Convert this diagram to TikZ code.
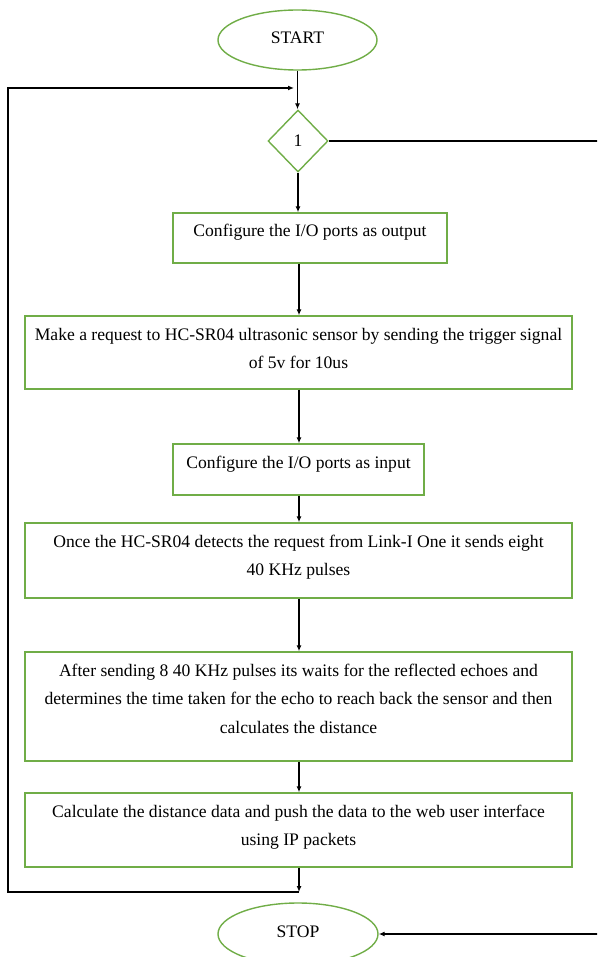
\documentclass[tikz,border=0pt]{standalone}
\usepackage{fontspec}
\setmainfont{Liberation Serif}
\usetikzlibrary{shapes.geometric,arrows.meta}
\definecolor{boxgreen}{RGB}{112,173,71}

% box contents: width, height, text (first baseline 24pt below the top edge)
\newcommand\flowtext[3]{\parbox[c][#2pt][t]{#1pt}{\centering\fontsize{17.6}{28.5}\selectfont\rule{0pt}{24pt}#3}}

\tikzset{
  flowbox/.style={draw=boxgreen, line width=1.4pt, rectangle, inner sep=0pt},
  terminal/.style={draw=boxgreen, line width=1.4pt, ellipse, inner sep=0pt,
                   font=\fontsize{17.6}{20}\selectfont},
  decision/.style={draw=boxgreen, line width=1.4pt, diamond, inner sep=0pt,
                   font=\fontsize{17.6}{20}\selectfont},
  link/.style={draw=black, line width=1.3pt},
  arr/.style={link, -{Latex[length=6pt,width=5pt]}},
}

\begin{document}
\begin{tikzpicture}[x=1pt, y=-1pt]
  \useasboundingbox (0,0) rectangle (597,957);
  \clip (0,0) rectangle (597,957);

  % terminals and decision
  \node[terminal, minimum width=159pt, minimum height=60pt] (start) at (297.5,40) {\raisebox{5pt}{START}};
  \node[decision, minimum width=60pt, minimum height=62pt] (dec) at (298,141) {1};
  \node[terminal, minimum width=160pt, minimum height=62pt] (stop) at (298,934) {\raisebox{5pt}{STOP}};

  % process steps
  \node[flowbox] (b1) at (310,238)
    {\flowtext{274}{50}{Configure the I/O ports as output}};
  \node[flowbox] (b2) at (298.5,352.5)
    {\flowtext{547}{73}{Make a request to HC-SR04 ultrasonic sensor by sending the trigger signal\\ of 5v for 10us}};
  \node[flowbox] (b3) at (298.5,469.5)
    {\flowtext{251}{51}{Configure the I/O ports as input}};
  \node[flowbox] (b4) at (298.5,560.5)
    {\flowtext{547}{75}{Once the HC-SR04 detects the request from Link-I One it sends eight\\ 40 KHz pulses}};
  \node[flowbox] (b5) at (298.5,706.5)
    {\flowtext{547}{109}{After sending 8 40 KHz pulses its waits for the reflected echoes and\\ determines the time taken for the echo to reach back the sensor and then\\ calculates the distance}};
  \node[flowbox] (b6) at (298.5,830)
    {\flowtext{547}{74}{Calculate the distance data and push the data to the web user interface\\ using IP packets}};

  % helper points of the loop and the exit line
  \coordinate (spine) at (299,0);
  \coordinate (joint) at (299,892);
  \coordinate (loopbl) at (8,892);
  \coordinate (looptl) at (8,88);
  \coordinate (entry) at (294,88);
  \coordinate (rtop) at (620,141);
  \coordinate (rbot) at (620,934);

  % main flow
  \draw[arr] (start.south) -- (start.south |- dec.north);
  \draw[arr] (dec.south) -- (dec.south |- b1.north);
  \draw[arr] (b1.south -| spine) -- (b2.north -| spine);
  \draw[arr] (b2.south -| spine) -- (b3.north -| spine);
  \draw[arr] (b3.south -| spine) -- (b4.north -| spine);
  \draw[arr] (b4.south -| spine) -- (b5.north -| spine);
  \draw[arr] (b5.south -| spine) -- (b6.north -| spine);
  \draw[arr] (b6.south -| spine) -- (joint);

  % loop back to the decision
  \draw[arr] (joint) -- (loopbl) -- (looptl) -- (entry);

  % exit branch to STOP
  \draw[link] (dec.east) -- (rtop) -- (rbot);
  \draw[arr] (rbot) -- (stop.east);
\end{tikzpicture}
\end{document}
